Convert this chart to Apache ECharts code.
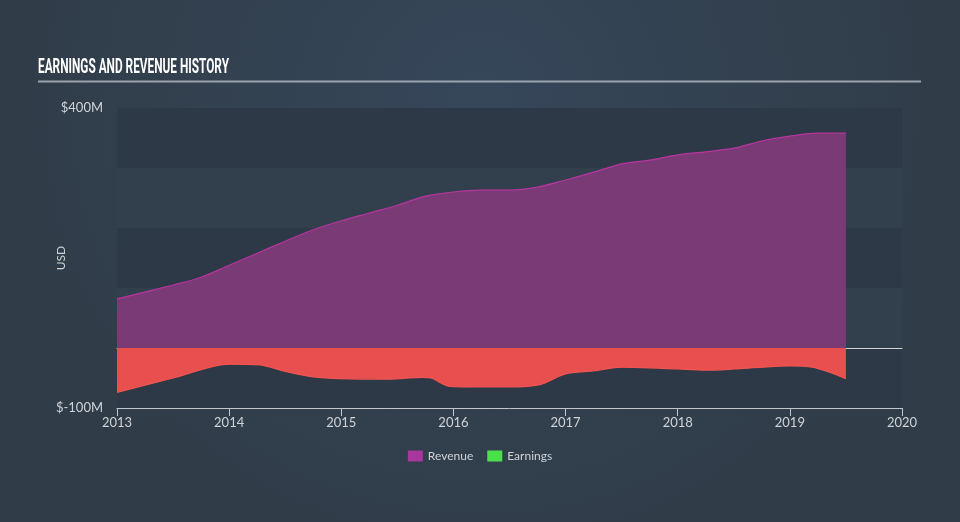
<!DOCTYPE html>
<html><head><meta charset="utf-8">
<script src="https://cdn.jsdelivr.net/npm/echarts@6/dist/echarts.min.js"></script>
<style>html,body{margin:0;padding:0;background:#323f4c;}#c{width:960px;height:522px;}</style>
</head><body><div id="c"></div>
<script>
var revenueTimes = [2013.0, 2013.5, 2013.75, 2014.0, 2014.25, 2014.5, 2014.75, 2015.0, 2015.25, 2015.5, 2015.75, 2016.0, 2016.25, 2016.5, 2016.75, 2017.0, 2017.25, 2017.5, 2017.75, 2018.0, 2018.25, 2018.5, 2018.75, 2019.0, 2019.25, 2019.5];
var revenueValues = [82, 105, 118, 138, 158, 178, 197, 212, 225, 238, 253, 260, 263, 263, 268, 280, 293, 307, 313, 322, 327, 333, 345, 353, 358, 358];
var earningsTimes = [2013.0, 2013.5, 2014.0, 2014.27, 2014.5, 2014.75, 2015.0, 2015.37, 2015.73, 2015.8, 2015.97, 2016.25, 2016.5, 2016.77, 2017.0, 2017.25, 2017.5, 2017.75, 2018.0, 2018.25, 2018.5, 2018.75, 2019.0, 2019.2, 2019.5];
var earningsValues = [-74, -50, -27, -28, -39, -48, -51, -52, -49, -50, -64, -65, -65, -61, -43, -38, -32, -33, -35, -37, -35, -32, -30, -32, -51];
var xTicks = [2013, 2014, 2015, 2016, 2017, 2018, 2019, 2020];
var yLabels = {'400': '$400M', '-100': '$-100M'};
var titleText = 'EARNINGS AND REVENUE HISTORY';

function pairs(t, v) { return t.map(function (x, i) { return [x, v[i]]; }); }

var titleFont = 'bold 21px Roboto';
var mctx = document.createElement('canvas').getContext('2d');
mctx.font = titleFont;
var titleScale = 191 / mctx.measureText(titleText).width;

var chart = echarts.init(document.getElementById('c'));
var txt = '#d0d4d8';
chart.setOption({
  backgroundColor: new echarts.graphic.RadialGradient(0.5, 0.2, 0.9, [
    {offset: 0, color: '#36475a'}, {offset: 1, color: '#303c48'}
  ]),
  animation: false,
  graphic: [
    {type: 'text', x: 38, y: 57, scaleX: titleScale, style: {text: titleText, fill: '#ffffff', font: titleFont}},
    {type: 'rect', shape: {x: 38, y: 80.5, width: 883, height: 2}, style: {fill: '#9aa3ad'}}
  ],
  grid: {left: 117, right: 58, top: 108, bottom: 114},
  legend: {
    top: 445, left: 'center', icon: 'rect', itemWidth: 15, itemHeight: 11, itemGap: 14,
    textStyle: {color: txt, fontSize: 12, fontFamily: 'Lato'},
    data: [{name: 'Revenue', itemStyle: {color: '#a8379b'}}, {name: 'Earnings', itemStyle: {color: '#4be04b'}}]
  },
  xAxis: [{
    type: 'value', min: 2013, max: 2020, interval: 1,
    axisLine: {onZero: false, lineStyle: {color: '#c0c6cc', width: 1}},
    axisTick: {show: true, length: 8, lineStyle: {color: '#c0c6cc'}},
    axisLabel: {color: txt, fontSize: 13, fontFamily: 'Lato', margin: 8, formatter: function (v) { return String(v); }},
    splitLine: {show: false}
  }, {
    type: 'value', min: 2013, max: 2020, position: 'bottom',
    axisLine: {onZero: true, lineStyle: {color: '#d0d4d8', width: 1}},
    axisTick: {show: false}, axisLabel: {show: false}, splitLine: {show: false}
  }],
  yAxis: {
    type: 'value', min: -100, max: 400, interval: 100,
    name: 'USD', nameLocation: 'middle', nameGap: 50, nameRotate: 90, nameMoveOverlap: false,
    nameTextStyle: {color: txt, fontSize: 12, fontFamily: 'Lato'},
    axisLine: {show: false}, axisTick: {show: false},
    axisLabel: {color: txt, fontSize: 13, fontFamily: 'Lato', margin: 14, formatter: function (v) { return yLabels[String(v)] || ''; }},
    splitLine: {show: false},
    splitArea: {show: true, areaStyle: {color: ['#2d3947', '#323f4d']}}
  },
  series: [{
    name: 'Revenue', type: 'line', xAxisIndex: 0, smooth: 0.3, symbol: 'none',
    itemStyle: {color: '#a8379b'},
    lineStyle: {color: '#b8359f', width: 1.2},
    areaStyle: {color: '#7a3a75', opacity: 1},
    data: pairs(revenueTimes, revenueValues)
  }, {
    name: 'Earnings', type: 'line', xAxisIndex: 0, smooth: 0.3, symbol: 'none',
    itemStyle: {color: '#4be04b'},
    lineStyle: {color: '#f25452', width: 1.2},
    areaStyle: {color: '#e84f4f', opacity: 1},
    data: pairs(earningsTimes, earningsValues)
  }]
});
</script></body></html>
